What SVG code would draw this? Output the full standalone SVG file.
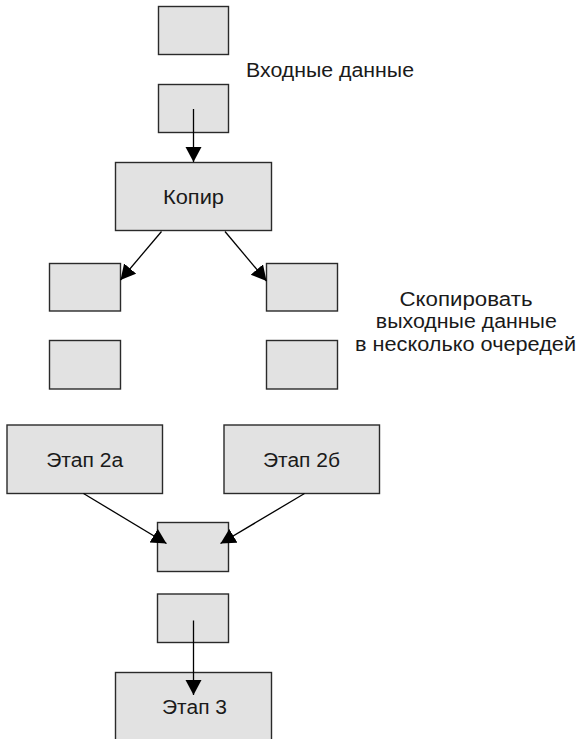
<svg xmlns="http://www.w3.org/2000/svg" width="580" height="739" viewBox="0 0 580 739">
<style>
.box{fill:#e2e2e2;stroke:#2a2a2a;stroke-width:1.4}
.t{font-family:"Liberation Sans",Arial,sans-serif;font-size:20px;fill:#1a1a1a}
.m{text-anchor:middle}
.c{stroke:#000;stroke-width:1.3;fill:none;marker-end:url(#ah)}
</style>
<defs>
<marker id="ah" markerUnits="userSpaceOnUse" markerWidth="16" markerHeight="17" refX="15" refY="8" orient="auto" viewBox="0 0 16 17">
<path d="M0,0 L15,8 L0,16 z" fill="#000"/>
</marker>
</defs>
<rect width="580" height="739" fill="#fff"/>
<g id="in1"><rect class="box" x="158.5" y="6.5" width="70" height="48"/></g>
<g id="in2"><rect class="box" x="158.5" y="84.5" width="70" height="48"/></g>
<g id="input-label"><text class="t" x="246" y="77" textLength="168" lengthAdjust="spacingAndGlyphs">Входные данные</text></g>
<g id="kopir"><rect class="box" x="115.5" y="162.5" width="156" height="68"/><text class="t m" x="193.5" y="203.5" textLength="61" lengthAdjust="spacingAndGlyphs">Копир</text></g>
<g id="qL1"><rect class="box" x="49.5" y="263.5" width="71" height="47.5"/></g>
<g id="qR1"><rect class="box" x="266.5" y="263.5" width="71" height="47.5"/></g>
<g id="qL2"><rect class="box" x="49.5" y="340.5" width="71" height="48.5"/></g>
<g id="qR2"><rect class="box" x="266.5" y="340.5" width="71" height="48.5"/></g>
<g id="copy-label">
<text class="t m" x="466" y="305.7" textLength="133" lengthAdjust="spacingAndGlyphs">Скопировать</text>
<text class="t m" x="466.3" y="328.3" textLength="181" lengthAdjust="spacingAndGlyphs">выходные данные</text>
<text class="t m" x="465.5" y="350.7" textLength="221" lengthAdjust="spacingAndGlyphs">в несколько очередей</text>
</g>
<g id="etap2a"><rect class="box" x="7" y="425" width="155.5" height="68.5"/><text class="t m" x="84.7" y="466.7" textLength="77" lengthAdjust="spacingAndGlyphs">Этап 2а</text></g>
<g id="etap2b"><rect class="box" x="224" y="425" width="155.5" height="68.5"/><text class="t m" x="301.5" y="466.7" textLength="77" lengthAdjust="spacingAndGlyphs">Этап 2б</text></g>
<g id="m1"><rect class="box" x="157.5" y="522.5" width="71" height="49"/></g>
<g id="m2"><rect class="box" x="157.5" y="594" width="71" height="48.5"/></g>
<g id="etap3"><rect class="box" x="115.5" y="672.5" width="156" height="80"/><text class="t m" x="194.5" y="714" textLength="65" lengthAdjust="spacingAndGlyphs">Этап 3</text></g>
<g id="connectors">
<line class="c" x1="193.5" y1="109" x2="193.5" y2="162"/>
<line class="c" x1="161.5" y1="231.5" x2="120.5" y2="280"/>
<line class="c" x1="225" y1="231.5" x2="266.5" y2="281"/>
<line class="c" x1="83.5" y1="493.5" x2="166.5" y2="543.5"/>
<line class="c" x1="304.5" y1="493.5" x2="220.5" y2="543.5"/>
<line class="c" x1="193.5" y1="620.5" x2="193.5" y2="695"/>
</g>
</svg>
